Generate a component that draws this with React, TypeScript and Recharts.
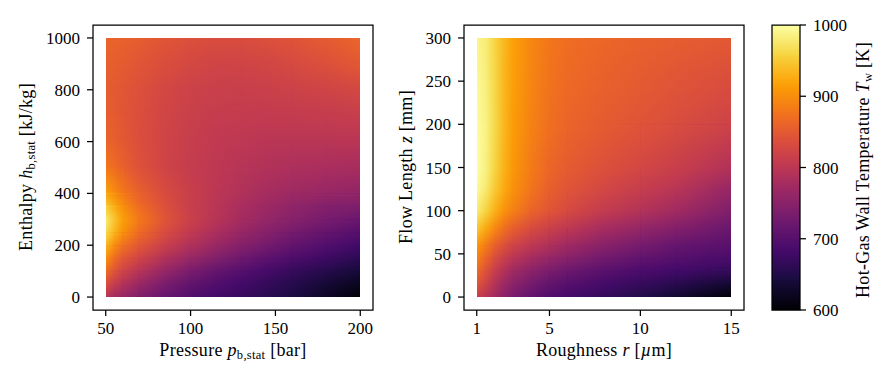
import React from 'react';
import { ComposedChart, XAxis, YAxis, ReferenceArea } from 'recharts';

// ---------- data ----------
const pressures = [50, 55, 60, 70, 85, 100, 115, 130, 145, 160, 180, 200];
const enthalpies = [0, 50, 100, 150, 200, 250, 300, 350, 400, 500, 600, 700, 800, 900, 1000];
// rows follow enthalpies (bottom -> top), columns follow pressures
const tempPressureEnthalpy: number[][] = [
  [795, 778, 764, 742, 716, 696, 682, 670, 659, 645, 625, 603],
  [835, 812, 792, 765, 735, 712, 695, 681, 668, 655, 638, 620],
  [870, 845, 822, 795, 762, 735, 715, 699, 684, 670, 655, 640],
  [902, 872, 848, 822, 790, 765, 743, 724, 707, 692, 676, 660],
  [935, 902, 875, 847, 815, 790, 767, 747, 730, 714, 696, 680],
  [965, 935, 905, 868, 833, 806, 784, 764, 747, 731, 714, 700],
  [978, 948, 915, 880, 843, 816, 796, 778, 762, 748, 733, 720],
  [952, 925, 900, 868, 837, 813, 797, 782, 769, 757, 745, 740],
  [918, 898, 880, 857, 832, 814, 800, 789, 779, 771, 764, 758],
  [880, 869, 858, 840, 823, 810, 802, 795, 790, 786, 782, 780],
  [862, 856, 849, 836, 822, 812, 805, 801, 798, 797, 797, 798],
  [856, 851, 846, 836, 824, 815, 810, 808, 807, 808, 810, 812],
  [854, 850, 846, 838, 827, 819, 815, 814, 816, 819, 823, 828],
  [857, 855, 852, 845, 835, 828, 823, 822, 825, 830, 838, 848],
  [862, 860, 858, 853, 845, 838, 835, 835, 838, 843, 852, 863],
];

const roughness = [1, 1.5, 2, 2.5, 3, 4, 5, 6, 8, 10, 12, 15];
const flowLengths = [0, 15, 30, 45, 60, 80, 100, 125, 150, 200, 250, 300];
// rows follow flowLengths (bottom -> top), columns follow roughness
const tempRoughnessLength: number[][] = [
  [815, 795, 775, 752, 735, 712, 695, 685, 668, 652, 635, 602],
  [845, 820, 792, 768, 752, 730, 713, 700, 683, 670, 657, 635],
  [868, 840, 812, 790, 772, 752, 735, 722, 703, 690, 680, 667],
  [890, 862, 835, 814, 798, 778, 762, 748, 728, 712, 700, 688],
  [910, 884, 858, 839, 823, 803, 788, 773, 750, 733, 716, 703],
  [950, 925, 896, 873, 856, 833, 818, 803, 780, 762, 745, 720],
  [980, 958, 930, 905, 887, 862, 845, 830, 808, 792, 774, 740],
  [995, 978, 950, 925, 903, 877, 857, 844, 826, 812, 797, 763],
  [1000, 985, 958, 931, 909, 882, 864, 852, 838, 827, 814, 790],
  [998, 986, 962, 935, 913, 889, 872, 862, 851, 843, 834, 820],
  [994, 983, 960, 935, 915, 892, 876, 867, 858, 851, 844, 835],
  [990, 980, 958, 935, 916, 893, 878, 870, 863, 858, 853, 849],
];

const pressureTicks = [50, 100, 150, 200];
const enthalpyTicks = [0, 200, 400, 600, 800, 1000];
const roughnessTicks = [1, 5, 10, 15];
const flowLengthTicks = [0, 50, 100, 150, 200, 250, 300];
const colorbarTicks = [600, 700, 800, 900, 1000];
const colorRange = [600, 1000];

// ---------- colormap (inferno) ----------
const INFERNO: [number, string][] = [
  [0.0, '#000004'], [0.1, '#160b39'], [0.111, '#1b0c42'], [0.2, '#420a68'], [0.222, '#4b0c6b'],
  [0.3, '#6a176e'], [0.333, '#781c6d'], [0.4, '#932667'], [0.444, '#a52c60'], [0.5, '#bc3754'],
  [0.556, '#cf4446'], [0.6, '#dd513a'], [0.667, '#ed6925'], [0.7, '#f37819'], [0.778, '#fb9a06'],
  [0.8, '#fca50a'], [0.889, '#f7d03c'], [0.9, '#f6d746'], [1.0, '#fcffa4'],
];
const hexToRgb = (h: string) => [1, 3, 5].map((k) => parseInt(h.slice(k, k + 2), 16));
function colorAt(v: number): string {
  let t = (v - colorRange[0]) / (colorRange[1] - colorRange[0]);
  t = Math.max(0, Math.min(1, t));
  for (let k = 0; k < INFERNO.length - 1; k++) {
    const [p0, c0] = INFERNO[k];
    const [p1, c1] = INFERNO[k + 1];
    if (t <= p1) {
      const f = (t - p0) / (p1 - p0);
      const a = hexToRgb(c0);
      const b = hexToRgb(c1);
      const c = a.map((av, idx) => Math.round(av + (b[idx] - av) * f));
      return `rgb(${c[0]},${c[1]},${c[2]})`;
    }
  }
  return INFERNO[INFERNO.length - 1][1];
}

const FONT = '"Liberation Serif", "Times New Roman", serif';
const tickStyle = { fill: '#000', fontSize: 17, fontFamily: FONT };
const tickLine = { stroke: '#000', strokeWidth: 1.25 };

type Cell = { key: string; x1: number; x2: number; y1: number; y2: number; bottomId: string; topId: string };

function buildCells(prefix: string, xs: number[], ys: number[]): Cell[] {
  const cells: Cell[] = [];
  for (let j = 0; j < ys.length - 1; j++) {
    for (let i = 0; i < xs.length - 1; i++) {
      cells.push({
        key: `${prefix}-${j}-${i}`,
        x1: xs[i], x2: xs[i + 1], y1: ys[j], y2: ys[j + 1],
        bottomId: `${prefix}-g-${j}-${i}`,
        topId: `${prefix}-g-${j + 1}-${i}`,
      });
    }
  }
  return cells;
}

function gradientDefs(prefix: string, grid: number[][]) {
  const out: React.ReactNode[] = [];
  grid.forEach((row, j) => {
    for (let i = 0; i < row.length - 1; i++) {
      out.push(
        <linearGradient key={`${prefix}-g-${j}-${i}`} id={`${prefix}-g-${j}-${i}`} x1="0" y1="0" x2="1" y2="0">
          <stop offset="0" stopColor={colorAt(row[i])} />
          <stop offset="1" stopColor={colorAt(row[i + 1])} />
        </linearGradient>
      );
    }
  });
  return out;
}

const cellShape = (c: Cell) => (props: any) => {
  const { x, y, width, height } = props;
  if ([x, y, width, height].some((n) => typeof n !== 'number' || isNaN(n))) return <g />;
  return (
    <g>
      <rect x={x} y={y} width={width} height={height} fill={`url(#${c.bottomId})`} shapeRendering="crispEdges" />
      <rect x={x} y={y} width={width} height={height} fill={`url(#${c.topId})`} mask="url(#vfade)" shapeRendering="crispEdges" />
    </g>
  );
};

const leftCells = buildCells('L', pressures, enthalpies);
const rightCells = buildCells('R', roughness, flowLengths);

const TITLE = 18;
const SUB = 12.5;

export default function App() {
  return (
    <div style={{ position: 'absolute', left: 0, top: 0, width: 893, height: 386, background: '#fff', fontFamily: FONT, overflow: 'hidden' }}>
      <svg width={0} height={0} style={{ position: 'absolute' }}>
        <defs>
          <linearGradient id="vfadeGrad" x1="0" y1="0" x2="0" y2="1">
            <stop offset="0" stopColor="#fff" stopOpacity={1} />
            <stop offset="1" stopColor="#fff" stopOpacity={0} />
          </linearGradient>
          <mask id="vfade" maskContentUnits="objectBoundingBox" style={{ maskType: 'alpha' } as any}>
            <rect x="0" y="0" width="1" height="1" fill="url(#vfadeGrad)" />
          </mask>
          <linearGradient id="cbarGrad" x1="0" y1="0" x2="0" y2="1">
            {INFERNO.map(([p, c]) => (
              <stop key={p} offset={1 - p} stopColor={c} />
            )).reverse()}
          </linearGradient>
          {gradientDefs('L', tempPressureEnthalpy)}
          {gradientDefs('R', tempRoughnessLength)}
        </defs>
      </svg>

      {/* Left panel */}
      <div style={{ position: 'absolute', left: 0, top: 0 }}>
        <ComposedChart width={893} height={386} margin={{ top: 25, right: 520, bottom: 0, left: 0 }}>
          <XAxis type="number" dataKey="x" domain={[42.5, 207.5]} allowDataOverflow ticks={pressureTicks} interval={0}
            height={76} axisLine={false} tickSize={6} tickMargin={6} tick={tickStyle} tickLine={tickLine} />
          <YAxis type="number" domain={[-50, 1050]} allowDataOverflow ticks={enthalpyTicks} interval={0}
            width={93} axisLine={false} tickSize={6} tickMargin={7} tick={tickStyle} tickLine={tickLine} />
          {leftCells.map((c) => (
            <ReferenceArea key={c.key} x1={c.x1} x2={c.x2} y1={c.y1} y2={c.y2} ifOverflow="visible" shape={cellShape(c)} />
          ))}
          <ReferenceArea x1={42.5} x2={207.5} y1={-50} y2={1050} ifOverflow="visible" fill="none" fillOpacity={0} stroke="#000" strokeWidth={1.25} />
        </ComposedChart>
      </div>

      {/* Right panel */}
      <div style={{ position: 'absolute', left: 0, top: 0 }}>
        <ComposedChart width={893} height={386} margin={{ top: 25, right: 149, bottom: 0, left: 0 }}>
          <XAxis type="number" dataKey="x" domain={[0.3, 15.7]} allowDataOverflow ticks={roughnessTicks} interval={0}
            height={76} axisLine={false} tickSize={6} tickMargin={6} tick={tickStyle} tickLine={tickLine} />
          <YAxis type="number" domain={[-15, 315]} allowDataOverflow ticks={flowLengthTicks} interval={0}
            width={464} axisLine={false} tickSize={6} tickMargin={7} tick={tickStyle} tickLine={tickLine} />
          {rightCells.map((c) => (
            <ReferenceArea key={c.key} x1={c.x1} x2={c.x2} y1={c.y1} y2={c.y2} ifOverflow="visible" shape={cellShape(c)} />
          ))}
          <ReferenceArea x1={0.3} x2={15.7} y1={-15} y2={315} ifOverflow="visible" fill="none" fillOpacity={0} stroke="#000" strokeWidth={1.25} />
        </ComposedChart>
      </div>

      {/* Colorbar */}
      <div style={{ position: 'absolute', left: 0, top: 0 }}>
        <ComposedChart width={893} height={386} margin={{ top: 25, right: 0, bottom: 76, left: 772 }}>
          <XAxis type="number" dataKey="x" domain={[0, 1]} allowDataOverflow hide />
          <YAxis type="number" orientation="right" domain={colorRange} allowDataOverflow ticks={colorbarTicks} interval={0}
            width={93} axisLine={false} tickSize={6} tickMargin={7} tick={tickStyle} tickLine={tickLine} />
          <ReferenceArea x1={0} x2={1} y1={colorRange[0]} y2={colorRange[1]} ifOverflow="visible" fill="url(#cbarGrad)" fillOpacity={1} stroke="#000" strokeWidth={1.25} />
        </ComposedChart>
      </div>

      {/* Axis titles */}
      <svg width={893} height={386} style={{ position: 'absolute', left: 0, top: 0, pointerEvents: 'none' }} fontFamily={FONT} fontSize={TITLE} fill="#000" letterSpacing={0.3}>
        <text x={233} y={356} textAnchor="middle">
          {'Pressure '}<tspan fontStyle="italic">p</tspan><tspan fontSize={SUB} dy={3}>b,stat</tspan><tspan dy={-3}>{' [bar]'}</tspan>
        </text>
        <text transform="translate(32,167) rotate(-90)" textAnchor="middle">
          {'Enthalpy '}<tspan fontStyle="italic">h</tspan><tspan fontSize={SUB} dy={3}>b,stat</tspan><tspan dy={-3}>{' [kJ/kg]'}</tspan>
        </text>
        <text x={604} y={356} textAnchor="middle">
          {'Roughness '}<tspan fontStyle="italic">r</tspan>{' ['}<tspan fontStyle="italic">µ</tspan>{'m]'}
        </text>
        <text transform="translate(412,167) rotate(-90)" textAnchor="middle">
          {'Flow Length '}<tspan fontStyle="italic">z</tspan>{' [mm]'}
        </text>
        <text transform="translate(869,170) rotate(-90)" textAnchor="middle">
          {'Hot-Gas Wall Temperature '}<tspan fontStyle="italic">T</tspan><tspan fontSize={SUB} dy={3}>w</tspan><tspan dy={-3}>{' [K]'}</tspan>
        </text>
      </svg>
    </div>
  );
}
